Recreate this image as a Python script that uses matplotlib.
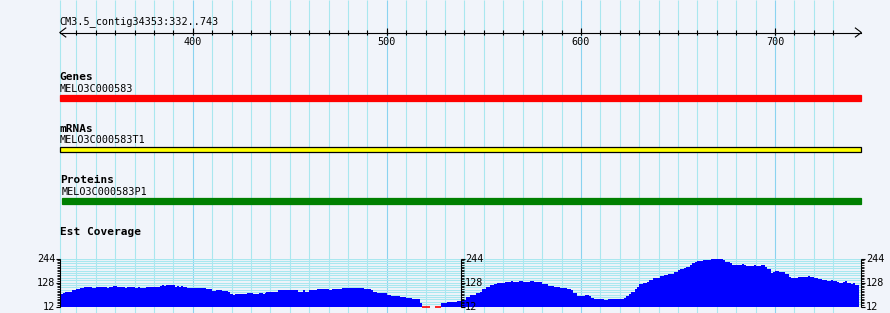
import numpy as np
import matplotlib
matplotlib.use('Agg')
from matplotlib import pyplot as plt
from matplotlib.patches import Rectangle

contig_label = 'CM3.5_contig34353:332..743'
view_start = 332
view_end = 743
ruler_major = [400, 500, 600, 700]
ruler_minor = list(range(340, 740, 10))

track_names = ['Genes', 'mRNAs', 'Proteins']
feature_names = ['MELO3C000583', 'MELO3C000583T1', 'MELO3C000583P1']
feature_starts = [332, 332, 333]
feature_ends = [743, 743, 743]
feature_colors = ['#ff0000', '#ffff00', '#008000']
feature_edges = ['#ff0000', '#000000', '#008000']

cov_title = 'Est Coverage'
cov_min = 12
cov_mid = 128
cov_max = 244
# bin start (bp) and coverage; 0 = below scale, nan = no data
cov_pos = [332, 333, 334, 338, 340, 342, 343, 344, 348, 350, 356, 357, 359, 361, 363, 365,
           366, 370, 372, 373, 376, 383, 384, 385, 386, 391, 392, 393, 394, 395, 397, 399,
           400, 403, 406, 407, 410, 412, 415, 418, 419, 421, 422, 427, 428, 430, 431, 434,
           436, 437, 438, 444, 454, 457, 458, 460, 464, 470, 472, 477, 483, 485, 488, 492,
           493, 495, 498, 500, 502, 507, 510, 513, 517, 518, 522, 525, 528, 531, 536, 538,
           541, 543, 546, 548, 549, 551, 553, 555, 557, 561, 564, 565, 568, 570, 574, 576,
           580, 583, 586, 589, 593, 595, 596, 598, 602, 604, 605, 607, 610, 612, 614, 618,
           622, 623, 625, 626, 628, 629, 630, 632, 634, 635, 637, 639, 641, 643, 645, 648,
           650, 651, 653, 654, 656, 657, 659, 660, 663, 667, 670, 673, 674, 677, 678, 683,
           684, 685, 689, 690, 693, 695, 696, 698, 699, 700, 702, 704, 705, 707, 708, 712,
           717, 718, 720, 722, 724, 727, 729, 730, 732, 733, 735, 736, 737, 739, 740, 741]
cov_val = [74, 80, 83, 90, 95, 100, 104, 108, 104, 108, 104, 109, 113, 108, 106, 104,
           108, 104, 108, 104, 109, 113, 117, 113, 117, 109, 113, 109, 113, 105, 100, 103,
           100, 102, 100, 96, 88, 93, 88, 83, 72, 67, 72, 75, 80, 77, 72, 77,
           72, 77, 85, 90, 85, 90, 85, 90, 95, 92, 95, 100, 104, 100, 95, 90,
           85, 80, 77, 70, 65, 59, 53, 48, 29, 0, np.nan, 0, 28, 35, 40, 46,
           58, 69, 77, 85, 97, 106, 116, 122, 127, 132, 136, 132, 136, 132, 136, 131,
           122, 114, 109, 104, 98, 90, 77, 65, 69, 64, 56, 51, 48, 43, 48, 51,
           56, 65, 75, 85, 97, 108, 119, 125, 132, 142, 148, 152, 158, 163, 171, 179,
           187, 194, 197, 203, 211, 220, 228, 234, 239, 244, 241, 237, 228, 220, 214, 217,
           211, 210, 213, 210, 213, 203, 193, 173, 180, 185, 180, 177, 171, 156, 151, 156,
           161, 156, 151, 145, 140, 136, 140, 136, 131, 127, 132, 136, 126, 122, 126, 117]

W, H = 890, 313
bg = '#f1f4fa'
grid_c = '#a9e7ef'
grid_major_c = '#8ad3f0'
px = 1 / 1.941  # bp per pixel
xlim = (300.7, 759.25)
mono = 'DejaVu Sans Mono'


def draw_ruler(ax):
    left, right = view_start - 0.5, view_end + 1.5
    y = 32.5
    ax.plot([left, right], [y, y], color='k', lw=0.8)
    ax.plot([left + 6 * px, left, left + 6 * px], [y - 4.5, y, y + 4.5], color='k', lw=0.8)
    ax.plot([right - 6 * px, right, right - 6 * px], [y - 4.5, y, y + 4.5], color='k', lw=0.8)
    ax.vlines(ruler_minor, y - 2.5, y + 2.5, color='k', lw=0.8)
    ax.vlines(ruler_major, y - 4.5, y + 2.5, color='k', lw=0.8)
    for m in ruler_major:
        ax.text(m, 45, str(m), ha='center', va='baseline', family=mono, fontsize=7.3)
    ax.text(left, 24.5, contig_label, ha='left', va='baseline', family=mono, fontsize=7.3)


def draw_tracks(ax):
    rows = [(80, 91.7, 95, 6), (131.7, 143.3, 146.5, 5.5), (182.7, 195, 198.3, 6)]
    for i, (lab_y, name_y, bar_y, bar_h) in enumerate(rows):
        ax.text(view_start - 0.5, lab_y, track_names[i], ha='left', va='baseline',
                family=mono, fontsize=8, fontweight='bold')
        x0 = feature_starts[i] - 0.5
        ax.text(x0, name_y, feature_names[i], ha='left', va='baseline', family=mono, fontsize=7.3)
        ax.add_patch(Rectangle((x0, bar_y), feature_ends[i] + 1.5 - x0, bar_h,
                               facecolor=feature_colors[i], edgecolor=feature_edges[i], lw=0.9))
    ax.text(view_start - 0.5, 235, cov_title, ha='left', va='baseline',
            family=mono, fontsize=8, fontweight='bold')


def draw_scale(cax, x, side):
    cax.vlines(x, cov_min, cov_max, color='k', lw=0.8, clip_on=False)
    ticks = np.linspace(cov_min, cov_max, 31)
    sgn = -1 if side == 'left' else 1
    cax.hlines(ticks, x, x + sgn * 3 * px, color='k', lw=0.6, clip_on=False)
    for v in [cov_min, cov_mid, cov_max]:
        cax.hlines(v, x, x + sgn * 4 * px, color='k', lw=0.8, clip_on=False)
        cax.text(x + sgn * 4.5 * px, v, str(v), ha='right' if side == 'left' else 'left',
                 va='center', family=mono, fontsize=7.3, clip_on=False)


fig = plt.figure(figsize=(W / 100, H / 100), dpi=100, facecolor=bg)
ax = fig.add_axes([0, 0, 1, 1])
ax.set_xlim(*xlim)
ax.set_ylim(H, 0)
ax.set_facecolor(bg)
ax.axis('off')

ax.vlines([view_start - 0.5] + [m for m in ruler_minor if m not in ruler_major], 0, H,
          color=grid_c, lw=0.8, zorder=0)
ax.vlines(ruler_major, 0, H, color=grid_major_c, lw=0.8, zorder=0)

draw_ruler(ax)
draw_tracks(ax)

y_top, y_bot = 258.5, 306.7
cax = fig.add_axes([0, (H - y_bot) / H, 1, (y_bot - y_top) / H])
cax.set_xlim(*xlim)
cax.set_ylim(cov_min, cov_max)
cax.patch.set_alpha(0)
cax.axis('off')

left, right = view_start - 0.5, view_end + 1.5
cax.hlines(np.linspace(cov_min, cov_max, 21), left, right, color=grid_c, lw=0.8, zorder=0)

vals = np.array(cov_val, dtype=float)
edges = np.array(cov_pos + [view_end + 0.5], dtype=float)
fill_vals = np.where(vals < cov_min, cov_min, vals)
cax.fill_between(edges, np.append(fill_vals, fill_vals[-1]), cov_min, step='post',
                 color='#0000ff', lw=0, zorder=2)
low = vals < cov_min
cax.hlines(np.full(low.sum(), cov_min), edges[:-1][low], edges[1:][low],
           color='#ff0000', lw=1.2, clip_on=False, zorder=3)

draw_scale(cax, left, 'left')
draw_scale(cax, (left + right) / 2, 'right')
draw_scale(cax, right, 'right')

fig.savefig('out.png', dpi=100, facecolor=bg)
